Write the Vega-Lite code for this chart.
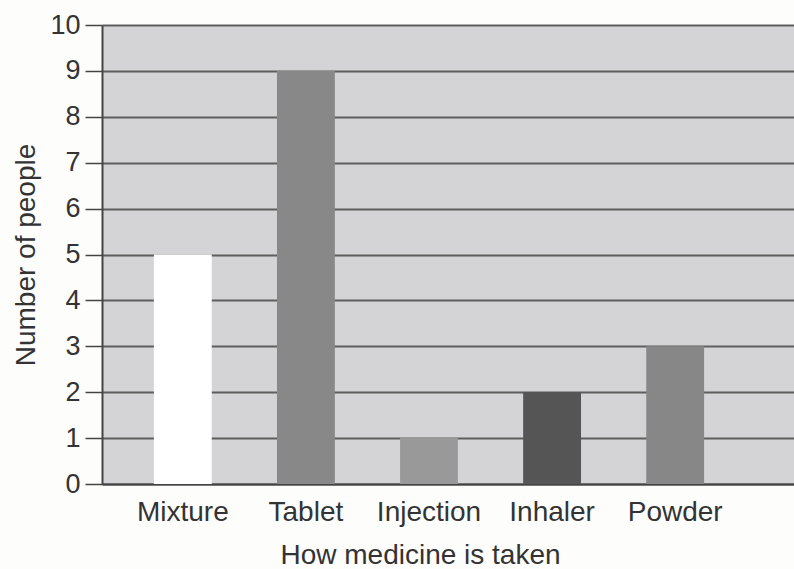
{
  "$schema": "https://vega.github.io/schema/vega-lite/v6.json",
  "autosize": "none",
  "padding": {"left": 102, "top": 25, "right": 0, "bottom": 85},
  "width": 692,
  "height": 459,
  "background": "#fdfdfc",
  "config": {
    "view": {"fill": "#d4d3d5", "stroke": null},
    "font": "Liberation Sans",
    "axis": {
      "labelFont": "Liberation Sans",
      "titleFont": "Liberation Sans",
      "labelColor": "#333333",
      "titleColor": "#333333",
      "labelFontWeight": "normal",
      "titleFontWeight": "normal"
    }
  },
  "data": {
    "values": [
      {"Method": "Mixture", "People": 5},
      {"Method": "Tablet", "People": 9},
      {"Method": "Injection", "People": 1},
      {"Method": "Inhaler", "People": 2},
      {"Method": "Powder", "People": 3}
    ]
  },
  "mark": {"type": "bar"},
  "encoding": {
    "x": {
      "field": "Method",
      "type": "nominal",
      "sort": null,
      "scale": {"paddingInner": 0.53, "paddingOuter": 0.576, "align": 0.366},
      "axis": {
        "title": "How medicine is taken",
        "labelAngle": 0,
        "labelFontSize": 28,
        "titleFontSize": 28,
        "ticks": false,
        "labelPadding": 14,
        "titlePadding": 15,
        "titleX": 318,
        "domain": true,
        "domainColor": "#444444",
        "domainWidth": 2,
        "grid": false
      }
    },
    "y": {
      "field": "People",
      "type": "quantitative",
      "scale": {"domain": [0, 10], "nice": false},
      "axis": {
        "title": "Number of people",
        "values": [0, 1, 2, 3, 4, 5, 6, 7, 8, 9, 10],
        "labelFontSize": 27,
        "titleFontSize": 28,
        "tickSize": 17,
        "tickColor": "#444444",
        "tickWidth": 1.5,
        "labelPadding": 5,
        "titlePadding": 9,
        "domainColor": "#444444",
        "domainWidth": 2,
        "grid": true,
        "gridColor": "#5e5e5e",
        "gridWidth": 2,
        "gridOpacity": 1
      }
    },
    "color": {
      "field": "Method",
      "type": "nominal",
      "legend": null,
      "scale": {
        "domain": ["Mixture", "Tablet", "Injection", "Inhaler", "Powder"],
        "range": ["#ffffff", "#888888", "#999999", "#555555", "#878787"]
      }
    }
  }
}
